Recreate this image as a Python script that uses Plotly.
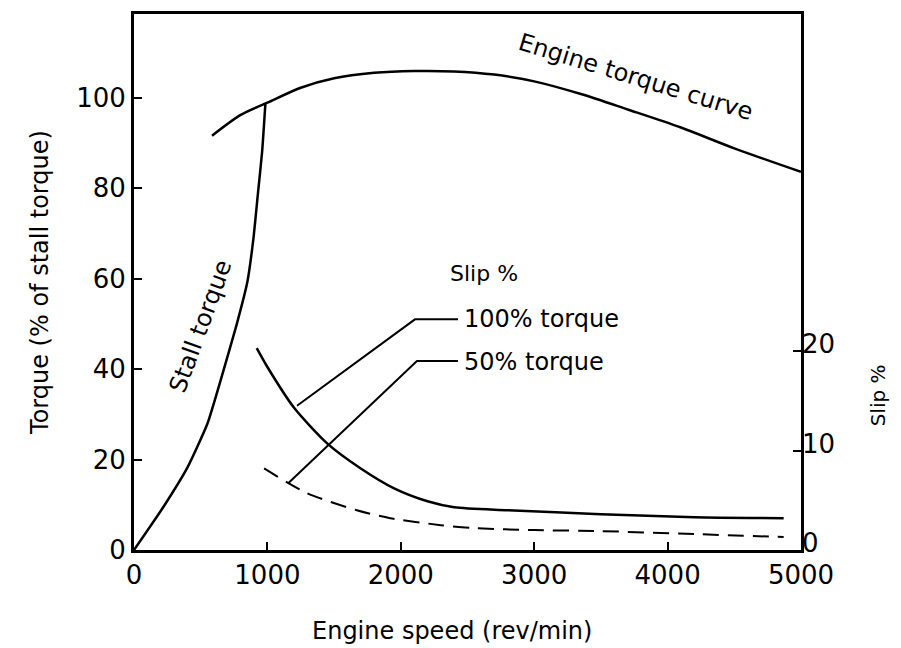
import plotly.graph_objects as go

# Engine torque curve (rev/min, % of stall torque)
engine_rpm = [585, 800, 1000, 1250, 1500, 1800, 2100, 2400, 2700, 3000, 3350, 3700, 4100, 4500, 5000]
engine_torque = [91.6, 96.2, 98.9, 102.2, 104.3, 105.5, 105.9, 105.8, 105.1, 103.6, 100.8, 97.4, 93.4, 88.8, 83.6]

# Stall torque curve
stall_rpm = [0, 220, 400, 550, 670, 770, 850, 895, 930, 960, 985]
stall_torque = [0, 9.5, 18.2, 27.9, 39.6, 49.9, 59.3, 68.8, 79.1, 87.9, 98.7]

# Slip % at 100% torque
slip100_rpm = [920, 1000, 1200, 1450, 1700, 1950, 2200, 2400, 2800, 3500, 4200, 4870]
slip100 = [20.3, 18.4, 14.3, 10.7, 8.2, 6.2, 4.9, 4.3, 4.0, 3.6, 3.3, 3.2]

# Slip % at 50% torque
slip50_rpm = [975, 1300, 1670, 1920, 2300, 2550, 3000, 3500, 4200, 4870]
slip50 = [8.2, 5.7, 4.0, 3.2, 2.5, 2.2, 2.0, 1.9, 1.6, 1.3]

x_ticks = [0, 1000, 2000, 3000, 4000, 5000]
torque_ticks = [0, 20, 40, 60, 80, 100]
slip_ticks = [0, 10, 20]

FONT = "DejaVu Sans"
INK = "black"

fig = go.Figure()

fig.add_trace(
    go.Scatter(x=engine_rpm, y=engine_torque, mode="lines",
               line={"color": INK, "width": 2.5, "shape": "spline", "smoothing": 0.8},
               showlegend=False)
)
fig.add_trace(
    go.Scatter(x=stall_rpm, y=stall_torque, mode="lines",
               line={"color": INK, "width": 2.5, "shape": "spline", "smoothing": 0.5},
               showlegend=False)
)
fig.add_trace(
    go.Scatter(x=slip100_rpm, y=slip100, mode="lines", yaxis="y2",
               line={"color": INK, "width": 2.5, "shape": "spline", "smoothing": 0.7},
               showlegend=False)
)
fig.add_trace(
    go.Scatter(x=slip50_rpm, y=slip50, mode="lines", yaxis="y2",
               line={"color": INK, "width": 2, "dash": "16px,9px", "shape": "spline",
                     "smoothing": 0.7},
               showlegend=False)
)

# Leader lines from the slip labels to the curves
fig.add_shape(type="path", xref="x", yref="y", path="M 1222 31.9 L 2106 51.0 L 2429 51.0",
              line={"color": INK, "width": 2})
fig.add_shape(type="path", xref="x", yref="y", path="M 1154 14.7 L 2121 41.8 L 2429 41.8",
              line={"color": INK, "width": 2})

label_font = {"family": FONT, "size": 24, "color": INK}
fig.add_annotation(x=3760, y=104.6, text="Engine torque curve", textangle=17,
                   showarrow=False, font=label_font)
fig.add_annotation(x=495, y=49.4, text="Stall torque", textangle=-70,
                   showarrow=False, font=label_font)
fig.add_annotation(x=2354, y=61.1, text="Slip %", xanchor="left",
                   showarrow=False, font={"family": FONT, "size": 22, "color": INK})
fig.add_annotation(x=2459, y=51.0, text="100% torque", xanchor="left",
                   showarrow=False, font=label_font)
fig.add_annotation(x=2459, y=41.6, text="50% torque", xanchor="left",
                   showarrow=False, font=label_font)

# Axis titles
title_font = {"family": FONT, "size": 24, "color": INK}
fig.add_annotation(xref="paper", yref="paper", x=-0.141, y=0.50, xanchor="center",
                   yanchor="middle", text="Torque (% of stall torque)",
                   textangle=-90, showarrow=False, font=title_font)
fig.add_annotation(xref="paper", yref="paper", x=0.477, y=-0.152, xanchor="center",
                   yanchor="middle", text="Engine speed (rev/min)",
                   showarrow=False, font=title_font)
fig.add_annotation(xref="paper", yref="paper", x=1.115, y=0.288, xanchor="center",
                   yanchor="middle", text="Slip %",
                   textangle=-90, showarrow=False, font={"family": FONT, "size": 20, "color": INK})

tick_font = {"family": FONT, "size": 26, "color": INK}
axis_style = {
    "ticks": "inside",
    "ticklen": 8,
    "tickwidth": 2,
    "tickcolor": INK,
    "showgrid": False,
    "zeroline": False,
    "tickfont": tick_font,
}

# The page body adds an 8px offset, so the figure is sized 8px smaller.
fig.update_layout(
    width=893,
    height=640,
    margin={"l": 126, "r": 100, "t": 3, "b": 98},
    plot_bgcolor="white",
    paper_bgcolor="white",
    showlegend=False,
    xaxis={
        **axis_style,
        "range": [0, 5000],
        "tickvals": x_ticks,
        "showline": True,
        "linecolor": INK,
        "linewidth": 3,
        "mirror": True,
    },
    yaxis={
        **axis_style,
        "range": [0, 118.5],
        "tickvals": torque_ticks,
        "showline": True,
        "linecolor": INK,
        "linewidth": 3,
        "mirror": True,
    },
    yaxis2={
        **axis_style,
        "range": [0, 53.9],
        "overlaying": "y",
        "side": "right",
        "tickvals": slip_ticks,
        "ticklabelshift": -7,
        "showline": False,
    },
)

fig.write_html("out.html")
